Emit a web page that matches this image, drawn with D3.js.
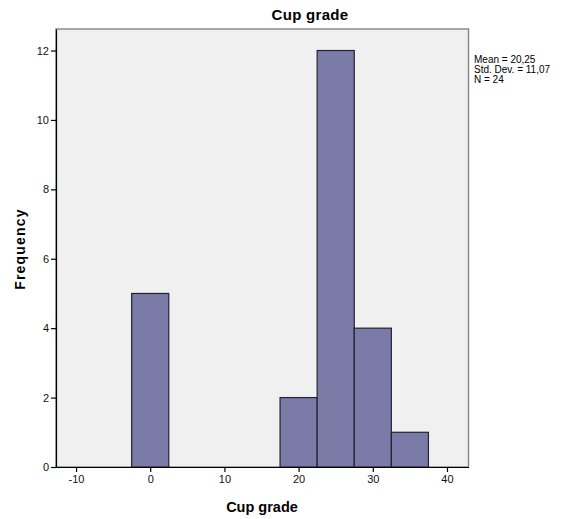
<!DOCTYPE html>
<html>
<head>
<meta charset="utf-8">
<script src="https://cdn.jsdelivr.net/npm/d3@7/dist/d3.min.js"></script>
<style>
  html, body { margin: 0; padding: 0; background: #ffffff; }
  svg { display: block; font-family: Arial, "Liberation Sans", sans-serif; }
</style>
</head>
<body>
<svg id="chart" width="568" height="519"></svg>
<script>
// Histogram of cup grades: bin edges and counts
const binStarts = [-2.5, 17.5, 22.5, 27.5, 32.5];
const binWidth = 5;
const counts = [5, 2, 12, 4, 1];
const xTicks = [-10, 0, 10, 20, 30, 40];
const yTicks = [0, 2, 4, 6, 8, 10, 12];
const statLines = ["Mean = 20,25", "Std. Dev. = 11,07", "N = 24"];

const svg = d3.select("#chart");
const plot = { left: 56, right: 468.5, top: 29, bottom: 467 };

const x = d3.scaleLinear().domain([-12.7, 42.9]).range([plot.left, plot.right]);
const y = d3.scaleLinear().domain([0, 12.62]).range([plot.bottom, plot.top]);

// plot background and frame
svg.append("rect")
  .attr("x", plot.left).attr("y", plot.top)
  .attr("width", plot.right - plot.left).attr("height", plot.bottom - plot.top)
  .attr("fill", "#f0f0f0")
  .attr("stroke", "#8a8a8a").attr("stroke-width", 1.5);

// bars
svg.append("g").selectAll("rect")
  .data(binStarts.map((s, i) => ({ s, c: counts[i] })))
  .join("rect")
  .attr("x", d => x(d.s))
  .attr("y", d => y(d.c))
  .attr("width", d => x(d.s + binWidth) - x(d.s))
  .attr("height", d => y(0) - y(d.c))
  .attr("fill", "#7b7ba8")
  .attr("stroke", "#222233")
  .attr("stroke-width", 1.2);

// axes (plain hyphen for negatives)
const fmt = d => String(d);
const yAxis = svg.append("g")
  .attr("transform", `translate(${plot.left},0)`)
  .call(d3.axisLeft(y).tickValues(yTicks).tickFormat(fmt).tickSize(5).tickPadding(2).tickSizeOuter(0));
const xAxis = svg.append("g")
  .attr("transform", `translate(0,${plot.bottom})`)
  .call(d3.axisBottom(x).tickValues(xTicks).tickFormat(fmt).tickSize(5).tickPadding(3).tickSizeOuter(0));

[yAxis, xAxis].forEach(g => {
  g.select(".domain").attr("stroke", "#000").attr("stroke-width", 1.2);
  g.selectAll(".tick line").attr("stroke", "#000").attr("stroke-width", 1.2);
  g.selectAll(".tick text").attr("fill", "#111").style("font-size", "11px")
    .style("font-family", "Arial, 'Liberation Sans', sans-serif");
});

// title and axis labels
svg.append("text")
  .attr("x", 310).attr("y", 20)
  .attr("text-anchor", "middle")
  .style("font-size", "15px").style("font-weight", "bold")
  .style("letter-spacing", "0.3px")
  .text("Cup grade");

svg.append("text")
  .attr("x", 262).attr("y", 512)
  .attr("text-anchor", "middle")
  .style("font-size", "14.5px").style("font-weight", "bold")
  .text("Cup grade");

svg.append("text")
  .attr("transform", "translate(25,249) rotate(-90)")
  .attr("text-anchor", "middle")
  .style("font-size", "14px").style("font-weight", "bold")
  .style("letter-spacing", "1.2px")
  .text("Frequency");

// summary statistics
svg.append("g").selectAll("text")
  .data(statLines)
  .join("text")
  .attr("x", 474)
  .attr("y", (d, i) => 63 + i * 10)
  .style("font-size", "10px")
  .text(d => d);
</script>
</body>
</html>
